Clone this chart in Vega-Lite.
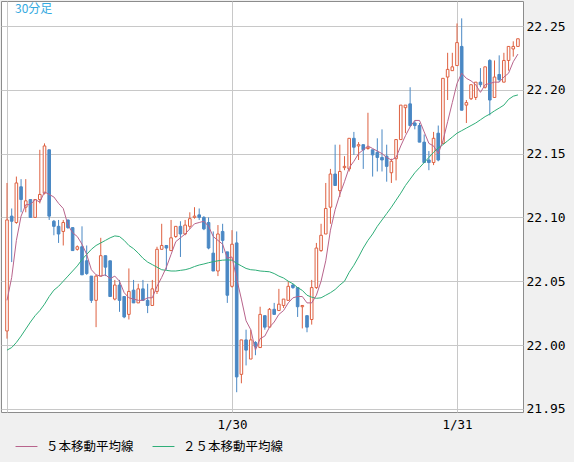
{
  "$schema": "https://vega.github.io/schema/vega-lite/v6.json",
  "width": 522,
  "height": 411,
  "autosize": {"type": "none"},
  "padding": {"left": 1, "top": 1, "right": 51, "bottom": 50},
  "background": "#f0f0f0",
  "title": {
    "text": "30分足",
    "anchor": "start",
    "frame": "group",
    "offset": 0,
    "baseline": "top",
    "dx": 14,
    "dy": 15,
    "font": "Noto Sans CJK JP",
    "fontSize": 12,
    "fontWeight": "normal",
    "color": "#33aae0"
  },
  "config": {
    "view": {"fill": "#ffffff", "stroke": "#8c8c8c", "strokeWidth": 1}
  },
  "data": {
    "values": [
      {"t": "2019-01-29T00:00Z", "o": 22.011, "h": 22.127, "l": 22.005, "c": 22.098, "ma5": 22.035, "ma25": 21.996},
      {"t": "2019-01-29T00:30Z", "o": 22.101, "h": 22.107, "l": 22.065, "c": 22.097, "ma5": 22.053, "ma25": 21.998},
      {"t": "2019-01-29T01:00Z", "o": 22.096, "h": 22.132, "l": 22.095, "c": 22.127, "ma5": 22.082, "ma25": 22.002},
      {"t": "2019-01-29T01:30Z", "o": 22.124, "h": 22.130, "l": 22.104, "c": 22.114, "ma5": 22.101, "ma25": 22.007},
      {"t": "2019-01-29T02:00Z", "o": 22.108, "h": 22.130, "l": 22.104, "c": 22.113, "ma5": 22.110, "ma25": 22.0125},
      {"t": "2019-01-29T02:30Z", "o": 22.114, "h": 22.114, "l": 22.100, "c": 22.100, "ma5": 22.110, "ma25": 22.018},
      {"t": "2019-01-29T03:00Z", "o": 22.100, "h": 22.114, "l": 22.100, "c": 22.114, "ma5": 22.114, "ma25": 22.023},
      {"t": "2019-01-29T03:30Z", "o": 22.114, "h": 22.153, "l": 22.111, "c": 22.118, "ma5": 22.112, "ma25": 22.027},
      {"t": "2019-01-29T04:00Z", "o": 22.119, "h": 22.158, "l": 22.118, "c": 22.156, "ma5": 22.120, "ma25": 22.032},
      {"t": "2019-01-29T04:30Z", "o": 22.153, "h": 22.153, "l": 22.098, "c": 22.101, "ma5": 22.118, "ma25": 22.038},
      {"t": "2019-01-29T05:00Z", "o": 22.097, "h": 22.098, "l": 22.086, "c": 22.093, "ma5": 22.116, "ma25": 22.043},
      {"t": "2019-01-29T05:30Z", "o": 22.093, "h": 22.098, "l": 22.080, "c": 22.087, "ma5": 22.111, "ma25": 22.046},
      {"t": "2019-01-29T06:00Z", "o": 22.089, "h": 22.098, "l": 22.078, "c": 22.096, "ma5": 22.107, "ma25": 22.050},
      {"t": "2019-01-29T06:30Z", "o": 22.098, "h": 22.098, "l": 22.091, "c": 22.092, "ma5": 22.094, "ma25": 22.054},
      {"t": "2019-01-29T07:00Z", "o": 22.092, "h": 22.092, "l": 22.074, "c": 22.074, "ma5": 22.088, "ma25": 22.058},
      {"t": "2019-01-29T07:30Z", "o": 22.075, "h": 22.078, "l": 22.074, "c": 22.077, "ma5": 22.085, "ma25": 22.062},
      {"t": "2019-01-29T08:00Z", "o": 22.077, "h": 22.093, "l": 22.055, "c": 22.055, "ma5": 22.079, "ma25": 22.067},
      {"t": "2019-01-29T08:30Z", "o": 22.066, "h": 22.078, "l": 22.055, "c": 22.056, "ma5": 22.071, "ma25": 22.071},
      {"t": "2019-01-29T09:00Z", "o": 22.054, "h": 22.054, "l": 22.033, "c": 22.035, "ma5": 22.059, "ma25": 22.075},
      {"t": "2019-01-29T09:30Z", "o": 22.035, "h": 22.055, "l": 22.014, "c": 22.054, "ma5": 22.055, "ma25": 22.078},
      {"t": "2019-01-29T10:00Z", "o": 22.054, "h": 22.084, "l": 22.054, "c": 22.070, "ma5": 22.054, "ma25": 22.080},
      {"t": "2019-01-29T10:30Z", "o": 22.070, "h": 22.070, "l": 22.054, "c": 22.061, "ma5": 22.055, "ma25": 22.082},
      {"t": "2019-01-29T11:00Z", "o": 22.066, "h": 22.066, "l": 22.038, "c": 22.038, "ma5": 22.052, "ma25": 22.084},
      {"t": "2019-01-29T11:30Z", "o": 22.036, "h": 22.051, "l": 22.035, "c": 22.047, "ma5": 22.054, "ma25": 22.0855},
      {"t": "2019-01-29T12:00Z", "o": 22.047, "h": 22.051, "l": 22.026, "c": 22.035, "ma5": 22.050, "ma25": 22.085},
      {"t": "2019-01-29T12:30Z", "o": 22.038, "h": 22.038, "l": 22.021, "c": 22.022, "ma5": 22.041, "ma25": 22.082},
      {"t": "2019-01-29T13:00Z", "o": 22.024, "h": 22.060, "l": 22.020, "c": 22.042, "ma5": 22.037, "ma25": 22.078},
      {"t": "2019-01-29T13:30Z", "o": 22.043, "h": 22.051, "l": 22.033, "c": 22.033, "ma5": 22.036, "ma25": 22.0755},
      {"t": "2019-01-29T14:00Z", "o": 22.033, "h": 22.048, "l": 22.033, "c": 22.044, "ma5": 22.035, "ma25": 22.072},
      {"t": "2019-01-29T14:30Z", "o": 22.044, "h": 22.051, "l": 22.035, "c": 22.035, "ma5": 22.035, "ma25": 22.068},
      {"t": "2019-01-29T15:00Z", "o": 22.035, "h": 22.048, "l": 22.025, "c": 22.031, "ma5": 22.037, "ma25": 22.065},
      {"t": "2019-01-29T15:30Z", "o": 22.031, "h": 22.051, "l": 22.031, "c": 22.044, "ma5": 22.037, "ma25": 22.063},
      {"t": "2019-01-29T16:00Z", "o": 22.042, "h": 22.077, "l": 22.040, "c": 22.075, "ma5": 22.046, "ma25": 22.061},
      {"t": "2019-01-29T16:30Z", "o": 22.075, "h": 22.095, "l": 22.075, "c": 22.078, "ma5": 22.053, "ma25": 22.059},
      {"t": "2019-01-29T17:00Z", "o": 22.078, "h": 22.078, "l": 22.059, "c": 22.076, "ma5": 22.061, "ma25": 22.0585},
      {"t": "2019-01-29T17:30Z", "o": 22.074, "h": 22.098, "l": 22.074, "c": 22.084, "ma5": 22.071, "ma25": 22.058},
      {"t": "2019-01-29T18:00Z", "o": 22.085, "h": 22.093, "l": 22.084, "c": 22.093, "ma5": 22.081, "ma25": 22.058},
      {"t": "2019-01-29T18:30Z", "o": 22.093, "h": 22.097, "l": 22.069, "c": 22.087, "ma5": 22.084, "ma25": 22.0585},
      {"t": "2019-01-29T19:00Z", "o": 22.087, "h": 22.098, "l": 22.086, "c": 22.094, "ma5": 22.087, "ma25": 22.059},
      {"t": "2019-01-29T19:30Z", "o": 22.093, "h": 22.104, "l": 22.091, "c": 22.099, "ma5": 22.091, "ma25": 22.060},
      {"t": "2019-01-29T20:00Z", "o": 22.100, "h": 22.108, "l": 22.099, "c": 22.101, "ma5": 22.095, "ma25": 22.0615},
      {"t": "2019-01-29T20:30Z", "o": 22.102, "h": 22.107, "l": 22.098, "c": 22.100, "ma5": 22.096, "ma25": 22.0627},
      {"t": "2019-01-29T21:00Z", "o": 22.100, "h": 22.101, "l": 22.090, "c": 22.091, "ma5": 22.097, "ma25": 22.0635},
      {"t": "2019-01-29T21:30Z", "o": 22.096, "h": 22.100, "l": 22.075, "c": 22.076, "ma5": 22.093, "ma25": 22.0645},
      {"t": "2019-01-29T22:00Z", "o": 22.072, "h": 22.089, "l": 22.058, "c": 22.058, "ma5": 22.085, "ma25": 22.0653},
      {"t": "2019-01-29T22:30Z", "o": 22.058, "h": 22.094, "l": 22.054, "c": 22.087, "ma5": 22.082, "ma25": 22.066},
      {"t": "2019-01-29T23:00Z", "o": 22.089, "h": 22.095, "l": 22.072, "c": 22.082, "ma5": 22.079, "ma25": 22.0665},
      {"t": "2019-01-29T23:30Z", "o": 22.073, "h": 22.073, "l": 22.033, "c": 22.039, "ma5": 22.068, "ma25": 22.0667},
      {"t": "2019-01-30T00:00Z", "o": 22.046, "h": 22.090, "l": 22.045, "c": 22.079, "ma5": 22.069, "ma25": 22.0665},
      {"t": "2019-01-30T00:30Z", "o": 22.080, "h": 22.089, "l": 21.963, "c": 21.975, "ma5": 22.052, "ma25": 22.064},
      {"t": "2019-01-30T01:00Z", "o": 21.977, "h": 22.004, "l": 21.970, "c": 22.004, "ma5": 22.036, "ma25": 22.062},
      {"t": "2019-01-30T01:30Z", "o": 22.004, "h": 22.012, "l": 21.984, "c": 21.996, "ma5": 22.019, "ma25": 22.060},
      {"t": "2019-01-30T02:00Z", "o": 21.989, "h": 22.012, "l": 21.989, "c": 22.004, "ma5": 22.012, "ma25": 22.059},
      {"t": "2019-01-30T02:30Z", "o": 22.002, "h": 22.003, "l": 21.992, "c": 21.999, "ma5": 21.996, "ma25": 22.0587},
      {"t": "2019-01-30T03:00Z", "o": 21.998, "h": 22.030, "l": 21.998, "c": 22.024, "ma5": 22.005, "ma25": 22.058},
      {"t": "2019-01-30T03:30Z", "o": 22.023, "h": 22.023, "l": 22.012, "c": 22.014, "ma5": 22.007, "ma25": 22.0577},
      {"t": "2019-01-30T04:00Z", "o": 22.014, "h": 22.029, "l": 22.014, "c": 22.028, "ma5": 22.014, "ma25": 22.0574},
      {"t": "2019-01-30T04:30Z", "o": 22.028, "h": 22.033, "l": 22.024, "c": 22.024, "ma5": 22.018, "ma25": 22.056},
      {"t": "2019-01-30T05:00Z", "o": 22.027, "h": 22.044, "l": 22.027, "c": 22.032, "ma5": 22.024, "ma25": 22.054},
      {"t": "2019-01-30T05:30Z", "o": 22.031, "h": 22.036, "l": 22.029, "c": 22.036, "ma5": 22.027, "ma25": 22.0525},
      {"t": "2019-01-30T06:00Z", "o": 22.035, "h": 22.050, "l": 22.035, "c": 22.046, "ma5": 22.033, "ma25": 22.050},
      {"t": "2019-01-30T06:30Z", "o": 22.047, "h": 22.048, "l": 22.044, "c": 22.045, "ma5": 22.037, "ma25": 22.048},
      {"t": "2019-01-30T07:00Z", "o": 22.045, "h": 22.045, "l": 22.022, "c": 22.030, "ma5": 22.038, "ma25": 22.045},
      {"t": "2019-01-30T07:30Z", "o": 22.030, "h": 22.031, "l": 22.013, "c": 22.031, "ma5": 22.038, "ma25": 22.0428},
      {"t": "2019-01-30T08:00Z", "o": 22.023, "h": 22.023, "l": 22.010, "c": 22.014, "ma5": 22.033, "ma25": 22.039},
      {"t": "2019-01-30T08:30Z", "o": 22.020, "h": 22.051, "l": 22.016, "c": 22.045, "ma5": 22.033, "ma25": 22.0375},
      {"t": "2019-01-30T09:00Z", "o": 22.045, "h": 22.080, "l": 22.044, "c": 22.076, "ma5": 22.039, "ma25": 22.0366},
      {"t": "2019-01-30T09:30Z", "o": 22.074, "h": 22.095, "l": 22.073, "c": 22.086, "ma5": 22.050, "ma25": 22.037},
      {"t": "2019-01-30T10:00Z", "o": 22.087, "h": 22.127, "l": 22.087, "c": 22.107, "ma5": 22.066, "ma25": 22.039},
      {"t": "2019-01-30T10:30Z", "o": 22.108, "h": 22.138, "l": 22.095, "c": 22.134, "ma5": 22.090, "ma25": 22.041},
      {"t": "2019-01-30T11:00Z", "o": 22.134, "h": 22.157, "l": 22.125, "c": 22.125, "ma5": 22.106, "ma25": 22.0435},
      {"t": "2019-01-30T11:30Z", "o": 22.121, "h": 22.157, "l": 22.116, "c": 22.136, "ma5": 22.118, "ma25": 22.047},
      {"t": "2019-01-30T12:00Z", "o": 22.139, "h": 22.148, "l": 22.137, "c": 22.140, "ma5": 22.128, "ma25": 22.050},
      {"t": "2019-01-30T12:30Z", "o": 22.138, "h": 22.162, "l": 22.136, "c": 22.162, "ma5": 22.139, "ma25": 22.057},
      {"t": "2019-01-30T13:00Z", "o": 22.162, "h": 22.167, "l": 22.149, "c": 22.155, "ma5": 22.144, "ma25": 22.0625},
      {"t": "2019-01-30T13:30Z", "o": 22.156, "h": 22.159, "l": 22.145, "c": 22.157, "ma5": 22.150, "ma25": 22.069},
      {"t": "2019-01-30T14:00Z", "o": 22.157, "h": 22.157, "l": 22.138, "c": 22.153, "ma5": 22.153, "ma25": 22.076},
      {"t": "2019-01-30T14:30Z", "o": 22.154, "h": 22.182, "l": 22.153, "c": 22.155, "ma5": 22.156, "ma25": 22.082},
      {"t": "2019-01-30T15:00Z", "o": 22.153, "h": 22.153, "l": 22.132, "c": 22.149, "ma5": 22.154, "ma25": 22.087},
      {"t": "2019-01-30T15:30Z", "o": 22.151, "h": 22.162, "l": 22.136, "c": 22.147, "ma5": 22.152, "ma25": 22.093},
      {"t": "2019-01-30T16:00Z", "o": 22.147, "h": 22.169, "l": 22.136, "c": 22.145, "ma5": 22.150, "ma25": 22.098},
      {"t": "2019-01-30T16:30Z", "o": 22.148, "h": 22.157, "l": 22.128, "c": 22.140, "ma5": 22.147, "ma25": 22.103},
      {"t": "2019-01-30T17:00Z", "o": 22.135, "h": 22.146, "l": 22.127, "c": 22.144, "ma5": 22.145, "ma25": 22.108},
      {"t": "2019-01-30T17:30Z", "o": 22.146, "h": 22.161, "l": 22.129, "c": 22.161, "ma5": 22.147, "ma25": 22.1135},
      {"t": "2019-01-30T18:00Z", "o": 22.161, "h": 22.188, "l": 22.161, "c": 22.188, "ma5": 22.156, "ma25": 22.119},
      {"t": "2019-01-30T18:30Z", "o": 22.186, "h": 22.188, "l": 22.166, "c": 22.188, "ma5": 22.164, "ma25": 22.125},
      {"t": "2019-01-30T19:00Z", "o": 22.189, "h": 22.202, "l": 22.171, "c": 22.172, "ma5": 22.171, "ma25": 22.130},
      {"t": "2019-01-30T19:30Z", "o": 22.174, "h": 22.176, "l": 22.169, "c": 22.172, "ma5": 22.176, "ma25": 22.135},
      {"t": "2019-01-30T20:00Z", "o": 22.172, "h": 22.174, "l": 22.159, "c": 22.159, "ma5": 22.176, "ma25": 22.139},
      {"t": "2019-01-30T20:30Z", "o": 22.159, "h": 22.165, "l": 22.143, "c": 22.143, "ma5": 22.167, "ma25": 22.143},
      {"t": "2019-01-30T21:00Z", "o": 22.145, "h": 22.152, "l": 22.137, "c": 22.143, "ma5": 22.158, "ma25": 22.147},
      {"t": "2019-01-30T21:30Z", "o": 22.143, "h": 22.167, "l": 22.141, "c": 22.162, "ma5": 22.156, "ma25": 22.151},
      {"t": "2019-01-30T22:00Z", "o": 22.166, "h": 22.172, "l": 22.144, "c": 22.145, "ma5": 22.150, "ma25": 22.1545},
      {"t": "2019-01-30T22:30Z", "o": 22.158, "h": 22.209, "l": 22.158, "c": 22.209, "ma5": 22.160, "ma25": 22.157},
      {"t": "2019-01-30T23:00Z", "o": 22.210, "h": 22.229, "l": 22.192, "c": 22.216, "ma5": 22.175, "ma25": 22.160},
      {"t": "2019-01-30T23:30Z", "o": 22.215, "h": 22.229, "l": 22.215, "c": 22.218, "ma5": 22.190, "ma25": 22.163},
      {"t": "2019-01-31T00:00Z", "o": 22.219, "h": 22.252, "l": 22.219, "c": 22.237, "ma5": 22.205, "ma25": 22.166},
      {"t": "2019-01-31T00:30Z", "o": 22.234, "h": 22.256, "l": 22.184, "c": 22.184, "ma5": 22.213, "ma25": 22.168},
      {"t": "2019-01-31T01:00Z", "o": 22.188, "h": 22.192, "l": 22.174, "c": 22.190, "ma5": 22.209, "ma25": 22.170},
      {"t": "2019-01-31T01:30Z", "o": 22.193, "h": 22.204, "l": 22.192, "c": 22.204, "ma5": 22.207, "ma25": 22.172},
      {"t": "2019-01-31T02:00Z", "o": 22.194, "h": 22.206, "l": 22.192, "c": 22.206, "ma5": 22.204, "ma25": 22.174},
      {"t": "2019-01-31T02:30Z", "o": 22.206, "h": 22.217, "l": 22.202, "c": 22.204, "ma5": 22.198, "ma25": 22.1765},
      {"t": "2019-01-31T03:00Z", "o": 22.202, "h": 22.218, "l": 22.201, "c": 22.218, "ma5": 22.204, "ma25": 22.179},
      {"t": "2019-01-31T03:30Z", "o": 22.223, "h": 22.224, "l": 22.180, "c": 22.192, "ma5": 22.205, "ma25": 22.181},
      {"t": "2019-01-31T04:00Z", "o": 22.194, "h": 22.223, "l": 22.194, "c": 22.210, "ma5": 22.206, "ma25": 22.1835},
      {"t": "2019-01-31T04:30Z", "o": 22.212, "h": 22.227, "l": 22.206, "c": 22.208, "ma5": 22.206, "ma25": 22.1857},
      {"t": "2019-01-31T05:00Z", "o": 22.206, "h": 22.229, "l": 22.206, "c": 22.223, "ma5": 22.210, "ma25": 22.188},
      {"t": "2019-01-31T05:30Z", "o": 22.223, "h": 22.234, "l": 22.215, "c": 22.234, "ma5": 22.213, "ma25": 22.1925},
      {"t": "2019-01-31T06:00Z", "o": 22.232, "h": 22.238, "l": 22.226, "c": 22.234, "ma5": 22.222, "ma25": 22.195},
      {"t": "2019-01-31T06:30Z", "o": 22.234, "h": 22.240, "l": 22.234, "c": 22.240, "ma5": 22.228, "ma25": 22.196}
    ]
  },
  "encoding": {
    "x": {
      "field": "t",
      "type": "temporal",
      "scale": {
        "type": "utc",
        "nice": false,
        "padding": 0,
        "domain": [
          {"year": 2019, "month": 1, "date": 28, "hours": 23, "minutes": 21, "seconds": 36, "utc": true},
          {"year": 2019, "month": 1, "date": 31, "hours": 7, "minutes": 2, "seconds": 24, "utc": true}
        ]
      },
      "axis": {
        "title": null,
        "values": [
          {"year": 2019, "month": 1, "date": 29, "utc": true},
          {"year": 2019, "month": 1, "date": 30, "utc": true},
          {"year": 2019, "month": 1, "date": 31, "utc": true}
        ],
        "labelExpr": "utcdate(datum.value) == 29 ? '' : utcFormat(datum.value, '%-m/%d')",
        "grid": true,
        "gridColor": "#c8c8c8",
        "domain": false,
        "ticks": false,
        "labelPadding": 6,
        "labelFlush": false,
        "labelFont": "DejaVu Sans Mono",
        "labelFontSize": 12.5,
        "labelColor": "#000000"
      }
    }
  },
  "layer": [
    {
      "mark": {"type": "rule", "strokeWidth": 1},
      "encoding": {
        "y": {
          "field": "l",
          "type": "quantitative",
          "scale": {"domain": [21.9475, 22.2696], "zero": false, "nice": false, "padding": 0},
          "axis": {
            "title": null,
            "orient": "right",
            "values": [21.95, 22.0, 22.05, 22.1, 22.15, 22.2, 22.25],
            "format": ".2f",
            "grid": true,
            "gridColor": "#c8c8c8",
            "domain": false,
            "ticks": false,
            "labelPadding": 3,
            "labelFont": "DejaVu Sans Mono",
            "labelFontSize": 13,
            "labelColor": "#000000"
          }
        },
        "y2": {"field": "h"},
        "color": {
          "condition": {"test": "datum.c >= datum.o", "value": "#de6040"},
          "value": "#4a88c4"
        }
      }
    },
    {
      "mark": {"type": "bar", "width": 2.6, "strokeWidth": 1},
      "encoding": {
        "y": {"field": "o", "type": "quantitative"},
        "y2": {"field": "c"},
        "fill": {
          "condition": {"test": "datum.c >= datum.o", "value": "#ffffff"},
          "value": "#4a88c4"
        },
        "stroke": {
          "condition": {"test": "datum.c >= datum.o", "value": "#de6040"},
          "value": "#4a88c4"
        }
      }
    },
    {
      "mark": {"type": "line", "strokeWidth": 1},
      "encoding": {
        "y": {"field": "ma25", "type": "quantitative"},
        "color": {
          "datum": "２５本移動平均線",
          "scale": {
            "domain": ["５本移動平均線", "２５本移動平均線"],
            "range": ["#b8648c", "#2fae78"]
          },
          "legend": {
            "title": null,
            "orient": "none",
            "legendX": 14,
            "legendY": 434,
            "direction": "horizontal",
            "columns": 2,
            "columnPadding": 16,
            "symbolType": "stroke",
            "symbolSize": 480,
            "symbolStrokeWidth": 1,
            "labelOffset": 8,
            "labelFont": "Noto Sans CJK JP",
            "labelFontSize": 12.5,
            "labelColor": "#000000"
          }
        }
      }
    },
    {
      "mark": {"type": "line", "strokeWidth": 1},
      "encoding": {
        "y": {"field": "ma5", "type": "quantitative"},
        "color": {"datum": "５本移動平均線"}
      }
    }
  ]
}
